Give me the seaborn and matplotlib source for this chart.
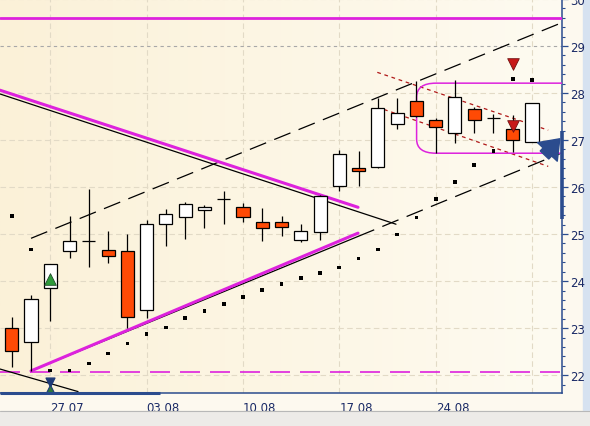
import numpy as np
import pandas as pd
import matplotlib
matplotlib.use("Agg")
import matplotlib.pyplot as plt
import seaborn as sns
from matplotlib.path import Path
from matplotlib.patches import PathPatch, Rectangle

# ---------------- data ----------------
day_idx = list(range(-2, 26))
opens  = [23.01, 22.70, 23.85, 24.65, 24.86, 24.67, 24.63, 23.39, 25.22, 25.36, 25.52, 25.75,
          25.58, 25.26, 25.26, 24.88, 25.05, 26.02, 26.40, 26.42, 27.35, 27.84, 27.42, 27.16,
          27.66, 27.46, 27.23, 26.95]
highs  = [23.23, 23.70, 24.36, 25.38, 25.96, 25.07, 25.01, 25.29, 25.54, 25.69, 25.61, 25.92,
          25.67, 25.56, 25.38, 25.21, 25.83, 26.78, 26.77, 27.89, 27.90, 28.25, 27.46, 28.28,
          27.70, 27.56, 27.54, 27.78]
lows   = [22.18, 22.09, 23.15, 24.50, 24.31, 24.39, 23.01, 23.22, 24.75, 24.89, 25.13, 25.22,
          25.26, 24.86, 24.96, 24.83, 24.88, 25.91, 26.02, 26.40, 27.24, 27.50, 26.73, 26.94,
          27.16, 27.16, 26.75, 26.95]
closes = [22.51, 23.62, 24.36, 24.85, 24.86, 24.53, 23.24, 25.22, 25.43, 25.64, 25.57, 25.75,
          25.37, 25.12, 25.15, 25.07, 25.80, 26.71, 26.35, 27.69, 27.57, 27.52, 27.27, 27.92,
          27.42, 27.46, 27.00, 27.78]
sar    = [25.38, 24.67, 22.10, 22.10, 22.25, 22.46, 22.67, 22.88, 23.01, 23.21, 23.37, 23.51,
          23.66, 23.81, 23.94, 24.06, 24.17, 24.29, 24.48, 24.67, 24.99, 25.35, 25.75, 26.11,
          26.47, 26.77, 28.30, 28.28]

tick_pos = [0, 5, 10, 15, 20, 25]
tick_labels = ["27.07", "03.08", "10.08", "17.08", "24.08", ""]
y_ticks = [22, 23, 24, 25, 26, 27, 28, 29, 30]

# annotation lines (x = trading-day index, y = price)
res_h = 29.60
sup_h = 22.07
grid_29 = 29.0
down_mag_x, down_mag_y = [-2.61, 15.97], [28.06, 25.57]
down_blk_x, down_blk_y = [-2.61, 17.94], [27.98, 25.21]
low_blk_x, low_blk_y = [-2.61, 1.44], [22.13, 21.65]
up_mag_x, up_mag_y = [-1, 15.97], [22.09, 25.02]
up_blk_x, up_blk_y = [-1, 15.97], [22.09, 24.95]
up_dash_x, up_dash_y = [15.97, 26.45], [24.95, 26.71]
chan_top_x, chan_top_y = [-1, 26.45], [24.91, 29.48]
flag_top_x, flag_top_y = [16.97, 25.84], [28.44, 27.21]
flag_bot_x, flag_bot_y = [17.32, 25.84], [27.65, 26.44]
box_left, box_top, box_bot = 19.01, 28.21, 26.72
buy_x, buy_y = [0], [24.04]
sell_x, sell_y = [24, 24], [27.30, 28.61]

# ---------------- figure ----------------
sns.set_style("white")
plt.rcParams["font.family"] = ["DejaVu Sans"]

fig = plt.figure(figsize=(5.9, 4.27), dpi=100, facecolor="#FDF9EF")
ax = fig.add_axes([0, 33 / 427, 561.7 / 590, 394 / 427])
xlim = (-2.61, 26.54)
ylim = (21.62, 29.93)

# background gradient
grad = np.linspace(0, 1, 256).reshape(1, -1)
cmap = matplotlib.colors.LinearSegmentedColormap.from_list("bg", ["#FBF1D8", "#FEFBF1"])
ax.imshow(grad, extent=[0, 1, 0, 1], transform=ax.transAxes, aspect="auto",
          cmap=cmap, zorder=0)

# grid
for t in tick_pos:
    ax.axvline(t, color="#E2DAC6", lw=0.8, ls=(0, (5, 3)), zorder=1)
for v in y_ticks:
    if v != 29:
        ax.axhline(v, color="#E2DAC6", lw=0.8, ls=(0, (5, 3)), zorder=1)
ax.axhline(grid_29, color="#A8A8A8", lw=0.8, ls=(0, (3, 3)), zorder=1)

MAG = "#DD22DD"
# horizontal levels
ax.axhline(res_h, color=MAG, lw=2.0, zorder=3)
ax.axhline(sup_h, color=MAG, lw=1.2, ls=(0, (12, 6)), zorder=3)

# trend lines via seaborn
def sline(xs, ys, **kw):
    sns.lineplot(x=xs, y=ys, ax=ax, legend=False, estimator=None, sort=False, **kw)

sline(down_blk_x, down_blk_y, color="black", lw=0.9, zorder=3)
sline(down_mag_x, down_mag_y, color=MAG, lw=2.2, zorder=4)
sline(low_blk_x, low_blk_y, color="black", lw=0.9, zorder=3)
sline(up_blk_x, up_blk_y, color="black", lw=0.9, zorder=3)
sline(up_mag_x, up_mag_y, color=MAG, lw=2.2, zorder=4)
sline(up_dash_x, up_dash_y, color="black", lw=0.9, zorder=3, dashes=(14, 7))
sline(chan_top_x, chan_top_y, color="black", lw=0.9, zorder=3, dashes=(14, 7))
sline(flag_top_x, flag_top_y, color="#B01818", lw=0.9, zorder=3, dashes=(3, 3))
sline(flag_bot_x, flag_bot_y, color="#B01818", lw=0.9, zorder=3, dashes=(3, 3))

# rounded box
rx, ry = 1.0, 0.3
verts = [(27.5, box_top), (box_left + rx, box_top), (box_left, box_top), (box_left, box_top - ry),
         (box_left, box_bot + ry), (box_left, box_bot), (box_left + rx, box_bot), (27.5, box_bot)]
codes = [Path.MOVETO, Path.LINETO, Path.CURVE3, Path.CURVE3,
         Path.LINETO, Path.CURVE3, Path.CURVE3, Path.LINETO]
ax.add_patch(PathPatch(Path(verts, codes), fill=False, edgecolor=MAG, lw=1.1, zorder=3))

# candles
df = pd.DataFrame(dict(x=day_idx, o=opens, h=highs, l=lows, c=closes, sar=sar))
ax.vlines(df.x, df.l, df.h, color="black", lw=0.9, zorder=5)
up = df.c >= df.o
colors = np.where(up, "white", "#FF4A05")
ax.bar(df.x, (df.c - df.o).abs(), bottom=np.minimum(df.o, df.c), width=0.68,
       color=colors, edgecolor="black", linewidth=0.9, zorder=6)

# parabolic SAR
sns.scatterplot(data=df, x="x", y="sar", ax=ax, marker="s", s=7, color="black",
                edgecolor="none", zorder=7, legend=False)

# signals
ax.scatter(buy_x, buy_y, marker="^", s=70, color="#2E9A3A", edgecolor="#1E4A2A",
           linewidth=0.6, zorder=8)
ax.scatter(sell_x, sell_y, marker="v", s=70, color="#C81818", edgecolor="#701010",
           linewidth=0.6, zorder=8)
ax.scatter([0], [21.85], marker="v", s=40, color="#1E3A78", zorder=8, clip_on=False)
ax.scatter([0], [21.70], marker="^", s=40, color="#2E7A3A", edgecolor="#1E3A78",
           linewidth=0.8, zorder=8, clip_on=False)

NAVY = "#2B4C8E"
# arrow at right edge
ax.annotate("", xy=(26.54, 27.07), xytext=(25.55, 26.64),
            arrowprops=dict(arrowstyle="simple,head_width=1.5,head_length=1.0,tail_width=0.65",
                            mutation_scale=13, fc=NAVY, ec=NAVY),
            annotation_clip=False, zorder=9)
ax.plot([xlim[1], xlim[1]], [25.33, 27.19], color=NAVY, lw=2.6, clip_on=False, zorder=9,
        solid_capstyle="butt")
ax.plot([xlim[0], 5.69], [ylim[0], ylim[0]], color=NAVY, lw=2.2, clip_on=False, zorder=9,
        solid_capstyle="butt")

ax.set_xlim(*xlim)
ax.set_ylim(*ylim)
ax.set_xlabel("")
ax.set_ylabel("")

# axes styling
for s in ["left", "top"]:
    ax.spines[s].set_visible(False)
for s in ["right", "bottom"]:
    ax.spines[s].set_color(NAVY)
    ax.spines[s].set_linewidth(1.1)

ax.yaxis.tick_right()
ax.set_yticks(y_ticks)
ax.set_yticklabels([str(v) for v in y_ticks])
ax.set_yticks(np.arange(21.8, 30.0, 0.2), minor=True)
ax.tick_params(axis="y", which="major", direction="out", length=4, width=0.9,
               color=NAVY, labelcolor="#1A2A66", labelsize=8.5, pad=2)
ax.tick_params(axis="y", which="minor", direction="out", length=2.5, width=0.8, color=NAVY)
ax.set_xticks(tick_pos)
ax.set_xticklabels(tick_labels, ha="left")
ax.tick_params(axis="x", direction="out", length=4, width=0.9, color=NAVY,
               labelcolor="#1A2A66", labelsize=8.5, pad=1.5)
for lbl in ax.get_xticklabels():
    lbl.set_horizontalalignment("left")

# surrounding UI blocks
fig.patches.append(Rectangle((583 / 590, 15 / 427), 7 / 590, 412 / 427,
                             transform=fig.transFigure, color="#D6E2F0", zorder=-1))
fig.patches.append(Rectangle((0, 0), 1, 15 / 427, transform=fig.transFigure,
                             color="#EDEBE8", zorder=-1))
fig.lines.append(matplotlib.lines.Line2D([0, 1], [15 / 427, 15 / 427],
                                         transform=fig.transFigure, color="#B8B8B8", lw=0.8))

fig.savefig("out.png", dpi=100, facecolor=fig.get_facecolor())
